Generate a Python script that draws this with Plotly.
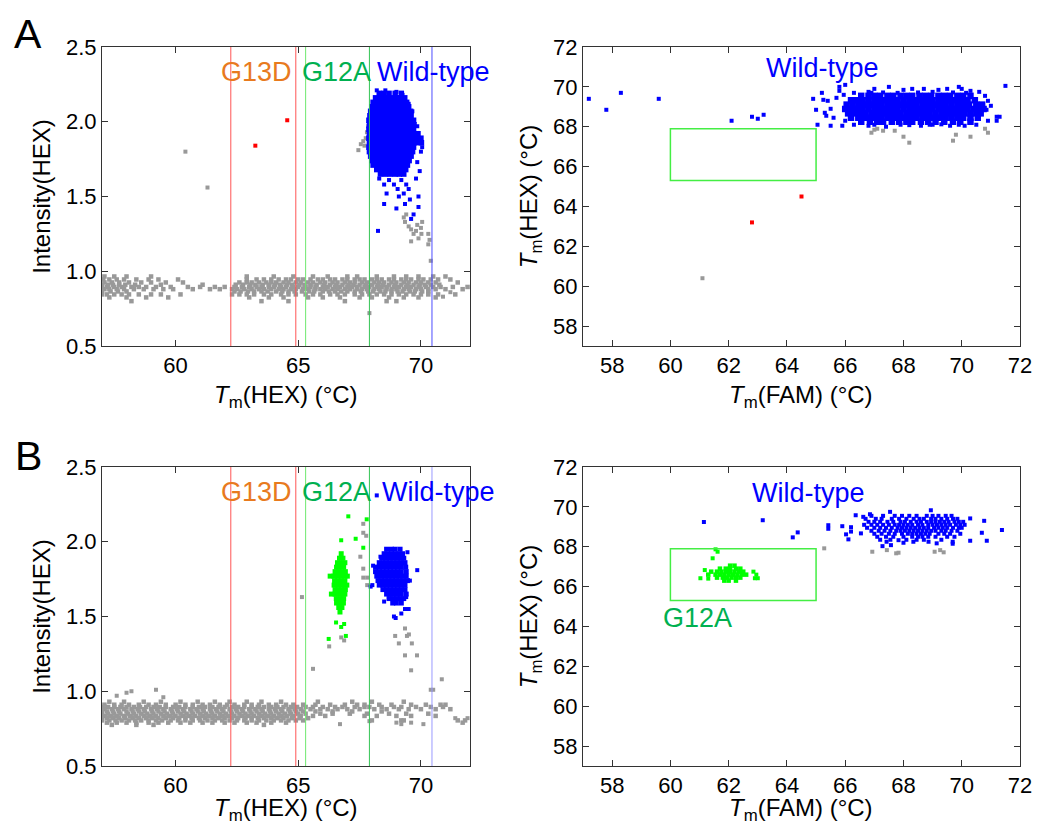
import plotly.graph_objects as go

# ---------------- data ----------------
# vertical cut-off lines in the Tm(HEX) panels
cut_g13d = [62.25, 64.9]
cut_g12a = [65.3, 67.9]
cut_wt = [70.45]
# G12A gate drawn in the Tm(FAM)/Tm(HEX) panels
gate_x = [60, 65]
gate_y = [65.3, 67.9]

# ---- panel A, left: Tm(HEX) vs intensity ----
a1_gray_row_y = [0.965, 0.945, 0.925, 0.91, 0.895, 0.88, 0.865, 0.845, 0.825, 0.80]
a1_gray_row_x = [
    [57.1, 57.5, 58.0, 59.0, 62.9, 64.0, 64.8, 65.6, 66.2, 67.0, 67.4, 68.2, 68.9, 69.4, 69.9, 70.5, 71.0],
    [57.05, 57.3, 57.6, 57.9, 58.4, 58.9, 59.3, 60.1, 62.9, 63.3, 63.6, 63.9, 64.2, 64.5, 64.7, 65.0, 65.2,
     65.5, 65.8, 66.0, 66.3, 66.5, 66.8, 67.0, 67.3, 67.5, 67.7, 68.0, 68.2, 68.4, 68.7, 68.9, 69.2, 69.4,
     69.6, 69.9, 70.1, 70.4, 70.7, 71.2],
    [57.1, 57.4, 57.7, 58.1, 58.6, 59.0, 59.6, 60.3, 62.6, 62.9, 63.1, 63.4, 63.7, 63.9, 64.1, 64.4, 64.6,
     64.9, 65.1, 65.4, 65.6, 65.9, 66.1, 66.4, 66.6, 66.9, 67.1, 67.3, 67.6, 67.8, 68.1, 68.3, 68.5, 68.8,
     69.0, 69.3, 69.5, 69.8, 70.0, 70.3, 70.6, 71.5],
    [57.0, 57.25, 57.45, 57.7, 57.95, 58.35, 59.4, 61.1, 62.45, 62.75, 63.05, 63.25, 63.55, 63.8, 64.05,
     64.25, 64.55, 64.75, 65.05, 65.25, 65.5, 65.75, 66.05, 66.3, 66.55, 66.8, 67.05, 67.25, 67.5, 67.75,
     68.0, 68.25, 68.45, 68.7, 68.95, 69.2, 69.45, 69.7, 69.95, 70.15, 70.4, 70.75],
    [57.0, 57.2, 57.5, 57.8, 58.2, 58.5, 58.8, 59.2, 59.8, 60.5, 61.0, 61.6, 62.0, 62.4, 62.7, 63.0, 63.3,
     63.5, 63.8, 64.0, 64.3, 64.5, 64.8, 65.0, 65.3, 65.5, 65.7, 66.0, 66.2, 66.5, 66.7, 67.0, 67.2, 67.4,
     67.7, 67.9, 68.2, 68.4, 68.6, 68.9, 69.1, 69.4, 69.6, 69.9, 70.2, 70.5, 70.8, 71.3, 71.9],
    [57.1, 57.3, 57.6, 57.9, 58.3, 58.7, 59.1, 59.5, 59.9, 60.7, 61.4, 61.8, 62.3, 62.5, 62.8, 63.1, 63.4,
     63.6, 63.9, 64.2, 64.4, 64.7, 64.9, 65.2, 65.4, 65.7, 65.9, 66.1, 66.4, 66.6, 66.9, 67.1, 67.4, 67.6,
     67.8, 68.1, 68.3, 68.6, 68.8, 69.0, 69.3, 69.5, 69.8, 70.0, 70.3, 70.6, 71.0, 71.7],
    [57.0, 57.35, 57.65, 58.0, 62.4, 62.65, 62.95, 63.2, 63.5, 63.75, 64.1, 64.35, 64.6, 64.85, 65.15,
     65.45, 65.65, 66.0, 66.25, 66.5, 66.75, 67.0, 67.3, 67.55, 67.85, 68.05, 68.35, 68.55, 68.8, 69.05,
     69.25, 69.55, 69.75, 70.05, 70.3],
    [57.0, 57.2, 57.5, 57.8, 58.1, 58.5, 59.0, 59.4, 60.2, 62.3, 62.6, 62.9, 63.2, 63.6, 63.9, 64.3, 64.6,
     64.9, 65.3, 65.6, 65.9, 66.3, 66.6, 66.9, 67.3, 67.6, 67.9, 68.2, 68.5, 68.8, 69.1, 69.4, 69.7, 70.0,
     70.3, 70.7, 71.4],
    [57.3, 58.0, 58.8, 59.7, 63.0, 63.8, 64.4, 65.4, 66.0, 66.7, 67.5, 68.0, 68.7, 69.3, 69.9, 70.6],
    [58.2, 63.5, 64.6, 66.9, 68.6, 69.0],
]
a1_gray_pts = [
    (60.4, 1.80), (61.3, 1.56), (70.4, 1.07), (67.9, 0.72), (70.9, 0.83), (71.2, 0.86),
    (67.45, 1.81), (67.55, 1.85), (67.65, 1.87), (67.75, 1.89), (67.8, 1.93), (67.85, 1.97), (67.7, 1.84),
    (69.3, 1.36), (69.35, 1.33), (69.5, 1.30), (69.6, 1.28), (69.7, 1.25), (69.8, 1.27), (69.85, 1.31),
    (69.9, 1.22), (70.0, 1.29), (70.02, 1.25), (70.05, 1.33), (70.3, 1.25), (70.35, 1.21), (70.3, 1.18),
    (69.6, 1.20), (69.4, 1.38),
]
a1_red_pts = [(63.25, 1.84), (64.55, 2.01)]
a1_wt_row_y = [2.19, 2.16, 2.13, 2.10, 2.07, 2.04, 2.01, 1.98, 1.95, 1.92, 1.89, 1.86, 1.83, 1.80,
               1.77, 1.74, 1.71, 1.68, 1.65]
a1_wt_row_x = [
    [68.3, 68.5, 68.7, 68.95, 69.2],
    [68.15, 68.32, 68.5, 68.67, 68.84, 69.0, 69.17, 69.34],
    [68.05, 68.22, 68.4, 68.57, 68.74, 68.9, 69.07, 69.24, 69.42],
    [68.0, 68.17, 68.34, 68.5, 68.67, 68.84, 69.0, 69.17, 69.34, 69.5],
    [67.95, 68.12, 68.28, 68.45, 68.62, 68.8, 68.96, 69.12, 69.3, 69.46, 69.58],
    [67.92, 68.08, 68.25, 68.42, 68.58, 68.75, 68.92, 69.08, 69.25, 69.42, 69.6],
    [67.88, 68.05, 68.22, 68.38, 68.55, 68.72, 68.88, 69.05, 69.22, 69.38, 69.55, 69.7],
    [67.9, 68.06, 68.22, 68.4, 68.56, 68.72, 68.9, 69.06, 69.22, 69.4, 69.56, 69.72],
    [67.88, 68.05, 68.22, 68.38, 68.55, 68.72, 68.88, 69.05, 69.22, 69.38, 69.55, 69.7],
    [67.9, 68.06, 68.22, 68.4, 68.56, 68.72, 68.9, 69.06, 69.22, 69.4, 69.56, 69.72, 69.88],
    [67.88, 68.05, 68.22, 68.38, 68.55, 68.72, 68.88, 69.05, 69.22, 69.38, 69.55, 69.7, 69.85, 70.0],
    [67.9, 68.06, 68.22, 68.4, 68.56, 68.72, 68.9, 69.06, 69.22, 69.4, 69.56, 69.72, 69.88, 70.02],
    [67.88, 68.05, 68.22, 68.38, 68.55, 68.72, 68.88, 69.05, 69.22, 69.38, 69.55, 69.7],
    [67.9, 68.06, 68.22, 68.4, 68.56, 68.72, 68.9, 69.06, 69.22, 69.4, 69.56, 69.66],
    [67.95, 68.12, 68.28, 68.45, 68.62, 68.8, 68.96, 69.12, 69.3, 69.46, 69.6],
    [68.0, 68.17, 68.34, 68.5, 68.67, 68.84, 69.0, 69.17, 69.34, 69.52],
    [68.05, 68.22, 68.4, 68.57, 68.74, 68.9, 69.07, 69.24, 69.45],
    [68.2, 68.36, 68.52, 68.7, 68.86, 69.02, 69.2, 69.38],
    [68.35, 68.55, 68.75, 68.95, 69.12, 69.3],
]
a1_wt_pts = [
    (68.2, 2.21), (68.55, 2.21), (69.0, 2.2), (69.25, 2.18), (69.5, 2.12), (69.65, 2.07), (69.85, 1.97),
    (70.05, 1.83), (70.0, 1.80), (69.85, 1.73), (69.95, 1.67), (69.8, 1.62),
    (68.3, 1.62), (68.5, 1.58), (68.7, 1.61), (68.9, 1.58), (69.05, 1.55), (69.2, 1.61), (69.4, 1.58),
    (69.5, 1.55), (68.6, 1.52), (69.1, 1.50), (69.3, 1.52), (69.55, 1.48), (69.9, 1.50), (69.9, 1.43),
    (69.35, 1.45), (68.5, 1.45), (69.7, 1.38), (68.25, 1.27), (69.0, 1.42), (69.6, 1.35),
]

# ---- panel A, right: Tm(FAM) vs Tm(HEX) ----
a2_gray_pts = [
    (61.1, 60.4), (66.9, 67.7), (67.1, 67.9), (67.3, 67.8), (67.7, 67.8), (68.0, 67.5), (68.2, 67.2),
    (69.7, 67.3), (69.8, 67.6), (70.3, 67.5), (70.8, 67.9), (70.9, 67.7), (67.0, 67.85),
]
a2_red_pts = [(62.8, 63.2), (64.5, 64.5)]
a2_wt_row_y = [69.55, 69.33, 69.11, 68.89, 68.67, 68.45, 68.25]
a2_wt_row_x = [
    [66.55, 66.8, 67.0, 67.2, 67.45, 67.65, 67.9, 68.1, 68.3, 68.55, 68.75, 68.95, 69.2, 69.4, 69.6,
     69.85, 70.05, 70.3],
    [66.2, 66.4, 66.6, 66.8, 67.0, 67.2, 67.4, 67.6, 67.8, 68.0, 68.2, 68.4, 68.6, 68.8, 69.0, 69.2,
     69.4, 69.6, 69.8, 70.0, 70.2, 70.45],
    [66.05, 66.25, 66.45, 66.65, 66.85, 67.05, 67.25, 67.45, 67.65, 67.85, 68.05, 68.25, 68.45, 68.65,
     68.85, 69.05, 69.25, 69.45, 69.65, 69.85, 70.05, 70.25, 70.5, 70.7],
    [66.0, 66.2, 66.4, 66.6, 66.8, 67.0, 67.2, 67.4, 67.6, 67.8, 68.0, 68.2, 68.4, 68.6, 68.8, 69.0,
     69.2, 69.4, 69.6, 69.8, 70.0, 70.2, 70.4, 70.6, 70.75],
    [66.1, 66.3, 66.5, 66.7, 66.9, 67.1, 67.3, 67.5, 67.7, 67.9, 68.1, 68.3, 68.5, 68.7, 68.9, 69.1,
     69.3, 69.5, 69.7, 69.9, 70.1, 70.3, 70.5, 70.65],
    [66.2, 66.45, 66.65, 66.85, 67.05, 67.25, 67.45, 67.65, 67.85, 68.05, 68.25, 68.45, 68.65, 68.85,
     69.05, 69.25, 69.45, 69.65, 69.85, 70.05, 70.3, 70.55],
    [66.55, 66.85, 67.1, 67.3, 67.6, 67.85, 68.1, 68.3, 68.6, 68.85, 69.1, 69.4, 69.7, 69.95, 70.3],
]
a2_wt_pts = [
    (57.2, 69.4), (57.8, 68.85), (58.3, 69.7), (59.6, 69.4), (62.1, 68.3), (62.8, 68.5), (63.0, 68.4),
    (63.2, 68.6), (71.5, 70.05), (64.9, 69.4), (65.0, 68.85), (65.05, 68.1), (65.2, 69.7), (65.25, 69.35),
    (65.4, 69.3), (65.3, 68.7), (65.35, 68.55), (65.5, 68.05), (65.5, 68.9), (65.6, 68.45), (65.8, 70.0),
    (65.8, 69.8), (65.9, 68.05), (65.7, 69.45), (66.0, 70.1), (65.95, 69.6), (66.3, 68.1), (67.5, 70.0),
    (67.0, 69.9), (68.0, 69.85), (68.3, 69.9), (68.7, 69.9), (69.2, 69.85), (69.5, 69.9), (69.9, 70.0),
    (70.0, 69.9), (70.3, 69.8), (70.6, 69.75), (70.8, 69.55), (70.9, 69.3), (71.0, 69.05), (70.85, 68.85),
    (71.2, 68.5), (71.3, 68.5), (70.9, 68.3), (71.2, 68.3), (70.5, 68.1), (70.1, 68.05), (69.6, 68.05),
    (68.6, 68.05), (67.4, 68.0), (66.8, 68.05), (67.9, 68.1), (66.9, 69.7), (69.0, 68.1),
    (66.3, 69.7), (66.8, 69.75), (67.3, 69.72), (67.8, 69.7), (68.5, 69.72), (69.0, 69.75), (69.7, 69.72),
    (70.15, 69.7), (66.0, 68.3), (67.0, 68.1), (68.2, 68.08), (68.9, 68.1), (69.3, 68.12), (69.9, 68.1),
]

# ---- panel B, left: Tm(HEX) vs intensity ----
b1_gray_row_y = [0.93, 0.91, 0.895, 0.88, 0.865, 0.85, 0.835, 0.82, 0.805, 0.79, 0.775]
b1_gray_row_x = [
    [57.3, 57.9, 58.7, 59.4, 60.2, 60.9, 61.6, 62.2, 62.9, 63.5, 64.3, 65.8, 67.2, 68.0, 69.3],
    [57.1, 57.5, 57.8, 58.1, 58.5, 58.9, 59.2, 59.6, 60.0, 60.4, 60.7, 61.1, 61.4, 61.8, 62.1, 62.4,
     62.8, 63.1, 63.4, 63.8, 64.1, 64.5, 64.8, 65.2, 65.7, 66.3, 66.9, 67.4, 67.7, 68.3, 68.8, 69.6,
     70.2, 70.8, 71.0],
    [57.0, 57.25, 57.5, 57.75, 58.0, 58.3, 58.55, 58.8, 59.1, 59.35, 59.6, 59.9, 60.15, 60.4, 60.7,
     60.95, 61.2, 61.5, 61.75, 62.0, 62.3, 62.55, 62.8, 63.1, 63.35, 63.6, 63.9, 64.15, 64.4, 64.7,
     64.95, 65.3, 65.6, 66.0, 66.5, 66.8, 67.3, 67.7, 67.9, 68.4, 68.9, 69.2, 69.8, 70.4, 70.9],
    [57.1, 57.4, 57.65, 57.9, 58.2, 58.45, 58.7, 59.0, 59.25, 59.5, 59.8, 60.05, 60.3, 60.6, 60.85,
     61.1, 61.4, 61.65, 61.9, 62.2, 62.45, 62.7, 63.0, 63.25, 63.5, 63.8, 64.05, 64.3, 64.6, 64.85,
     65.1, 65.5, 65.9, 66.2, 66.6, 67.0, 67.5, 68.1, 68.6, 69.1, 69.5, 70.0, 70.6, 71.2],
    [57.0, 57.2, 57.45, 57.7, 58.0, 58.25, 58.5, 58.75, 59.05, 59.3, 59.55, 59.85, 60.1, 60.35, 60.65,
     60.9, 61.15, 61.45, 61.7, 61.95, 62.25, 62.5, 62.75, 63.05, 63.3, 63.55, 63.85, 64.1, 64.35, 64.65,
     64.9, 65.2, 65.7, 66.4, 67.2, 68.4],
    [57.0, 57.25, 57.5, 57.75, 58.05, 58.3, 58.6, 58.85, 59.1, 59.4, 59.65, 59.9, 60.2, 60.45, 60.7,
     61.0, 61.25, 61.5, 61.8, 62.05, 62.3, 62.6, 62.85, 63.1, 63.4, 63.65, 63.9, 64.2, 64.45, 64.7,
     65.0, 65.3, 65.9, 66.4, 67.1, 67.8, 68.7, 69.4, 70.3],
    [57.1, 57.35, 57.6, 57.9, 58.15, 58.4, 58.7, 58.95, 59.2, 59.5, 59.75, 60.0, 60.3, 60.55, 60.8,
     61.1, 61.35, 61.6, 61.9, 62.15, 62.4, 62.7, 62.95, 63.2, 63.5, 63.75, 64.0, 64.3, 64.55, 64.8,
     65.1, 65.6, 66.1, 67.7, 68.2, 69.0, 69.6, 70.6],
    [57.0, 57.2, 57.45, 57.7, 57.95, 58.25, 58.5, 58.8, 59.05, 59.3, 59.6, 59.9, 60.15, 60.4, 60.65,
     60.95, 61.2, 61.5, 61.75, 62.0, 62.3, 62.55, 62.85, 63.1, 63.35, 63.6, 63.9, 64.15, 64.4, 64.75,
     65.05, 65.4],
    [57.0, 57.3, 57.55, 57.8, 58.1, 58.35, 58.6, 58.9, 59.2, 59.45, 59.8, 60.1, 60.4, 60.7, 61.0,
     61.3, 61.6, 61.9, 62.2, 62.5, 62.8, 63.1, 63.4, 63.7, 64.0, 64.3, 64.6, 64.9, 65.2, 68.0, 69.2,
     69.3, 71.5, 71.8],
    [57.2, 57.6, 58.0, 58.4, 58.9, 59.3, 59.7, 60.2, 60.6, 61.1, 61.5, 62.0, 62.4, 62.9, 63.3, 63.9,
     64.5, 71.7],
    [57.4, 58.4, 59.1, 63.6],
]
b1_gray_pts = [
    (58.0, 0.99), (58.2, 1.0), (59.2, 1.01), (59.5, 0.96), (57.6, 0.97), (66.7, 0.78), (67.9, 0.80),
    (69.0, 0.79), (69.6, 0.79), (70.4, 1.01), (70.5, 1.01), (70.85, 1.08), (69.2, 0.78), (70.1, 0.78),
    (71.9, 0.82), (71.4, 0.82),
    (65.15, 1.63), (65.6, 1.15), (66.26, 1.30), (66.75, 1.36), (66.87, 1.34),
    (67.65, 2.12), (67.65, 2.06), (67.77, 2.04), (67.53, 1.90), (67.65, 1.82), (67.65, 1.76),
    (67.81, 1.76), (67.81, 1.71),
    (69.35, 1.42), (68.95, 1.37), (69.43, 1.37), (69.51, 1.38), (69.1, 1.32), (69.63, 1.32),
    (69.35, 1.24), (69.84, 1.24), (69.6, 1.14),
]
b1_g12a_row_y = [1.92, 1.89, 1.86, 1.83, 1.80, 1.77, 1.74, 1.71, 1.68, 1.65, 1.62, 1.59, 1.56, 1.53]
b1_g12a_row_x = [
    [66.75],
    [66.68, 66.82],
    [66.6, 66.75, 66.9],
    [66.56, 66.7, 66.85],
    [66.5, 66.64, 66.78, 66.92],
    [66.3, 66.45, 66.6, 66.75, 66.9, 67.0],
    [66.48, 66.62, 66.76, 66.9],
    [66.46, 66.6, 66.74, 66.88, 66.98],
    [66.5, 66.64, 66.78, 66.92],
    [66.35, 66.5, 66.64, 66.78, 66.9],
    [66.55, 66.7, 66.85],
    [66.56, 66.7, 66.84],
    [66.65, 66.78],
    [66.7],
]
b1_g12a_pts = [
    (67.04, 2.17), (67.79, 2.15), (66.75, 2.01), (67.34, 2.02), (67.65, 1.96), (66.54, 1.46),
    (66.87, 1.45), (66.75, 1.43), (66.94, 1.37), (66.24, 1.35),
]
b1_wt_row_y = [1.95, 1.92, 1.89, 1.86, 1.83, 1.80, 1.77, 1.74, 1.71, 1.68, 1.65, 1.62, 1.59]
b1_wt_row_x = [
    [68.6, 68.8, 68.95, 69.15],
    [68.5, 68.65, 68.8, 68.95, 69.1, 69.25],
    [68.4, 68.55, 68.7, 68.85, 69.0, 69.15, 69.3],
    [68.3, 68.45, 68.6, 68.75, 68.9, 69.05, 69.2, 69.35],
    [68.15, 68.3, 68.45, 68.6, 68.75, 68.9, 69.05, 69.2, 69.38],
    [68.15, 68.3, 68.45, 68.6, 68.75, 68.9, 69.05, 69.2, 69.4],
    [68.2, 68.35, 68.5, 68.65, 68.8, 68.95, 69.1, 69.25, 69.4],
    [68.25, 68.4, 68.55, 68.7, 68.85, 69.0, 69.15, 69.3, 69.45],
    [68.3, 68.45, 68.6, 68.75, 68.9, 69.05, 69.2, 69.35],
    [68.45, 68.6, 68.75, 68.9, 69.05, 69.2, 69.35],
    [68.6, 68.75, 68.9, 69.05, 69.2, 69.4],
    [68.7, 68.85, 69.0, 69.15, 69.3],
    [68.85, 69.0, 69.2],
]
b1_wt_pts = [
    (68.05, 1.84), (67.95, 1.70), (68.02, 1.71), (69.85, 1.81), (69.55, 1.74), (69.4, 1.63),
    (69.35, 1.55), (69.5, 1.55), (68.9, 1.50), (68.97, 1.49), (69.2, 1.52), (68.5, 1.60),
    (68.2, 2.31), (68.35, 1.90), (69.45, 1.93),
]

# ---- panel B, right: Tm(FAM) vs Tm(HEX) ----
b2_gray_pts = [
    (65.28, 67.92), (66.93, 67.75), (67.43, 67.83), (67.75, 67.67), (67.83, 67.7), (69.07, 67.75),
    (69.26, 67.83), (69.38, 67.72),
]
b2_wt_row_y = [69.55, 69.4, 69.25, 69.1, 68.95, 68.8, 68.65, 68.5, 68.35]
b2_wt_row_x = [
    [66.9, 67.3, 67.7, 67.95, 68.2, 68.45, 68.8, 69.0, 69.2, 69.45, 69.65],
    [66.7, 67.05, 67.25, 67.6, 67.85, 68.1, 68.35, 68.55, 68.7, 68.95, 69.1, 69.3, 69.5, 69.7, 69.85],
    [66.8, 67.0, 67.2, 67.45, 67.65, 67.9, 68.05, 68.25, 68.45, 68.6, 68.8, 68.95, 69.1, 69.25, 69.4,
     69.55, 69.75, 69.9, 70.05],
    [66.65, 66.9, 67.1, 67.3, 67.5, 67.7, 67.85, 68.0, 68.15, 68.3, 68.5, 68.65, 68.85, 69.0, 69.15,
     69.3, 69.45, 69.6, 69.8, 69.95, 70.1],
    [66.75, 67.0, 67.2, 67.4, 67.6, 67.8, 67.95, 68.1, 68.25, 68.4, 68.55, 68.7, 68.85, 69.05, 69.2,
     69.35, 69.5, 69.7, 69.9, 70.0],
    [66.9, 67.15, 67.35, 67.55, 67.75, 67.9, 68.05, 68.2, 68.35, 68.5, 68.65, 68.8, 68.95, 69.1, 69.3,
     69.45, 69.65, 69.85],
    [67.0, 67.25, 67.5, 67.7, 67.95, 68.15, 68.3, 68.45, 68.6, 68.75, 68.9, 69.2, 69.4, 69.6, 69.95],
    [67.1, 67.4, 67.65, 68.0, 68.3, 68.5, 68.65, 68.85, 69.1, 69.5, 69.75],
    [67.2, 67.55, 68.1, 68.45, 68.7, 69.3],
]
b2_wt_pts = [
    (61.15, 69.24), (63.17, 69.33), (64.2, 68.47), (64.37, 68.72), (65.42, 69.08), (65.42, 68.9),
    (65.9, 69.03), (66.2, 68.98), (66.2, 68.76), (66.36, 69.58), (66.03, 68.62), (66.11, 68.37),
    (66.62, 69.5), (66.85, 69.63), (67.54, 69.75), (68.94, 69.83), (70.29, 69.42), (70.77, 69.3),
    (71.38, 68.84), (70.69, 68.7), (70.29, 68.3), (70.86, 68.3), (69.69, 68.25), (69.69, 68.15),
    (69.14, 68.17), (68.86, 68.25), (68.34, 68.25), (68.0, 68.2), (67.83, 68.33), (67.42, 68.25),
    (67.28, 68.03), (67.57, 68.08), (66.54, 68.67),
]
b2_g12a_row_y = [67.05, 66.9, 66.75, 66.6, 66.45, 66.3]
b2_g12a_row_x = [
    [62.05, 62.2],
    [61.7, 61.9, 62.05, 62.25, 62.4],
    [61.4, 61.6, 61.75, 61.9, 62.05, 62.2, 62.35, 62.5],
    [61.3, 61.55, 61.7, 61.85, 62.0, 62.15, 62.3, 62.45, 62.6],
    [61.6, 61.8, 61.95, 62.1, 62.25, 62.4],
    [61.85, 62.0, 62.25],
]
b2_g12a_pts = [
    (61.55, 67.87), (61.62, 67.75), (61.45, 67.42), (61.03, 66.42), (61.18, 66.83), (61.3, 66.4),
    (62.85, 66.75), (63.0, 66.42), (62.9, 66.42), (62.95, 66.6),
]

# ---------------- drawing ----------------
GRAY = '#999999'
BLUE = '#0000FF'
RED = '#FF0000'
GREEN = '#00FF00'
FONT = 'Arial, "Liberation Sans", sans-serif'

# the page puts the plot 8px in from the corner, so lay out a slightly smaller figure
W, H, OFF = 1031, 817, 8


def fx(px):
    return (px - OFF) / W


def fy(py):
    return 1 - (py - OFF) / H


def rows_to_xy(row_y, row_x):
    xs, ys = [], []
    for y, xr in zip(row_y, row_x):
        xs += xr
        ys += [y] * len(xr)
    return xs, ys


def pts_to_xy(pts):
    return [p[0] for p in pts], [p[1] for p in pts]


fig = go.Figure()


def add_points(xs, ys, color, size, xa, ya):
    fig.add_trace(go.Scatter(
        x=xs, y=ys, mode='markers', xaxis=xa, yaxis=ya, showlegend=False,
        marker=dict(symbol='square', size=size, color=color, line=dict(width=0)),
        hoverinfo='x+y',
    ))


# panel A left
add_points(*rows_to_xy(a1_gray_row_y, a1_gray_row_x), GRAY, 4.5, 'x', 'y')
add_points(*pts_to_xy(a1_gray_pts), GRAY, 4, 'x', 'y')
add_points(*rows_to_xy(a1_wt_row_y, a1_wt_row_x), BLUE, 5.5, 'x', 'y')
add_points(*pts_to_xy(a1_wt_pts), BLUE, 4, 'x', 'y')
add_points(*pts_to_xy(a1_red_pts), RED, 4, 'x', 'y')
# panel A right
add_points(*pts_to_xy(a2_gray_pts), GRAY, 4, 'x2', 'y2')
add_points(*rows_to_xy(a2_wt_row_y, a2_wt_row_x), BLUE, 6.5, 'x2', 'y2')
add_points(*pts_to_xy(a2_wt_pts), BLUE, 4, 'x2', 'y2')
add_points(*pts_to_xy(a2_red_pts), RED, 4, 'x2', 'y2')
# panel B left
add_points(*rows_to_xy(b1_gray_row_y, b1_gray_row_x), GRAY, 4.5, 'x3', 'y3')
add_points(*pts_to_xy(b1_gray_pts), GRAY, 4, 'x3', 'y3')
add_points(*rows_to_xy(b1_g12a_row_y, b1_g12a_row_x), GREEN, 5, 'x3', 'y3')
add_points(*pts_to_xy(b1_g12a_pts), GREEN, 4, 'x3', 'y3')
add_points(*rows_to_xy(b1_wt_row_y, b1_wt_row_x), BLUE, 5, 'x3', 'y3')
add_points(*pts_to_xy(b1_wt_pts), BLUE, 4, 'x3', 'y3')
# panel B right
add_points(*pts_to_xy(b2_gray_pts), GRAY, 4, 'x4', 'y4')
add_points(*rows_to_xy(b2_wt_row_y, b2_wt_row_x), BLUE, 4, 'x4', 'y4')
add_points(*pts_to_xy(b2_wt_pts), BLUE, 4, 'x4', 'y4')
add_points(*rows_to_xy(b2_g12a_row_y, b2_g12a_row_x), GREEN, 4.5, 'x4', 'y4')
add_points(*pts_to_xy(b2_g12a_pts), GREEN, 4, 'x4', 'y4')

# cut-off lines and gates
shapes = []
for xa, ya, wt_col in [('x', 'y', '#4D4DFF'), ('x3', 'y3', '#9999FF')]:
    for v in cut_g13d:
        shapes.append(dict(type='line', xref=xa, yref=ya + ' domain', x0=v, x1=v, y0=0, y1=1,
                           line=dict(color='#FF5555', width=1)))
    shapes.append(dict(type='line', xref=xa, yref=ya + ' domain', x0=cut_g12a[0], x1=cut_g12a[0],
                       y0=0, y1=1, line=dict(color='#6EE86E', width=1)))
    shapes.append(dict(type='line', xref=xa, yref=ya + ' domain', x0=cut_g12a[1], x1=cut_g12a[1],
                       y0=0, y1=1, line=dict(color='#33C455', width=1)))
    for v in cut_wt:
        shapes.append(dict(type='line', xref=xa, yref=ya + ' domain', x0=v, x1=v, y0=0, y1=1,
                           line=dict(color=wt_col, width=1)))
for xa, ya in [('x2', 'y2'), ('x4', 'y4')]:
    shapes.append(dict(type='rect', xref=xa, yref=ya, x0=gate_x[0], x1=gate_x[1],
                       y0=gate_y[0], y1=gate_y[1], line=dict(color='#44EE44', width=1.5)))

ann = []


def label(text, x, y, xa, ya, color, size=27):
    ann.append(dict(text=text, x=x, y=y, xref=xa, yref=ya, showarrow=False, xanchor='center',
                    yanchor='middle', font=dict(family=FONT, size=size, color=color)))


ORANGE = '#E87A1E'
DKGREEN = '#00B050'
label('G13D', 63.28, 2.33, 'x', 'y', ORANGE)
label('G12A', 66.56, 2.33, 'x', 'y', DKGREEN)
label('Wild-type', 70.53, 2.33, 'x', 'y', BLUE)
label('Wild-type', 65.23, 70.95, 'x2', 'y2', BLUE)
label('G13D', 63.28, 2.33, 'x3', 'y3', ORANGE)
label('G12A', 66.56, 2.33, 'x3', 'y3', DKGREEN)
label('Wild-type', 70.73, 2.33, 'x3', 'y3', BLUE)
label('Wild-type', 64.75, 70.7, 'x4', 'y4', BLUE)
label('G12A', 60.93, 64.4, 'x4', 'y4', DKGREEN)
# panel letters, hung from their top edge so they stay inside the page
for letter, py in [('A', 8.5), ('B', 431)]:
    ann.append(dict(text=letter, x=fx(28), y=fy(py), xref='paper', yref='paper', showarrow=False,
                    xanchor='center', yanchor='top', font=dict(family=FONT, size=41, color='black')))

# x-axis titles as paper annotations so the lower pair sits where the reference has it
tm_hex = '<i>T</i><sub>m</sub>(HEX) (°C)'
tm_fam = '<i>T</i><sub>m</sub>(FAM) (°C)'
for text, px, py in [(tm_hex, 286, 396), (tm_fam, 801, 396), (tm_hex, 286, 809), (tm_fam, 801, 809)]:
    ann.append(dict(text=text, x=fx(px), y=fy(py), xref='paper', yref='paper', showarrow=False,
                    xanchor='center', yanchor='middle', font=dict(family=FONT, size=24, color='black')))

axis_common = dict(showline=True, linecolor='#333333', linewidth=1, mirror='ticks', ticks='inside',
                   ticklen=6, tickcolor='#333333', showgrid=False, zeroline=False, automargin=False,
                   tickfont=dict(family=FONT, size=22, color='black'),
                   title_font=dict(family=FONT, size=24, color='black'))

int_ticks = [0.5, 1.0, 1.5, 2.0, 2.5]
int_text = ['0.5', '1.0', '1.5', '2.0', '2.5']
tm_ticks = [58, 60, 62, 64, 66, 68, 70, 72]

left_dom = [fx(102), fx(470)]
right_dom = [fx(583), fx(1020)]
top_dom = [fy(346), fy(47)]
bot_dom = [fy(766), fy(467)]

fig.update_layout(
    width=W, height=H, margin=dict(l=0, r=0, t=0, b=0, autoexpand=False),
    paper_bgcolor='white', plot_bgcolor='white', showlegend=False,
    shapes=shapes, annotations=ann,
    xaxis=dict(domain=left_dom, anchor='y', range=[57, 72], tickvals=[60, 65, 70], **axis_common),
    yaxis=dict(domain=top_dom, anchor='x', range=[0.5, 2.5], tickvals=int_ticks, ticktext=int_text,
               title=dict(text='Intensity(HEX)', standoff=8), **axis_common),
    xaxis2=dict(domain=right_dom, anchor='y2', range=[57, 72], tickvals=tm_ticks, **axis_common),
    yaxis2=dict(domain=top_dom, anchor='x2', range=[57, 72], tickvals=tm_ticks,
                title=dict(text=tm_hex, standoff=8), **axis_common),
    xaxis3=dict(domain=left_dom, anchor='y3', range=[57, 72], tickvals=[60, 65, 70], **axis_common),
    yaxis3=dict(domain=bot_dom, anchor='x3', range=[0.5, 2.5], tickvals=int_ticks, ticktext=int_text,
                title=dict(text='Intensity(HEX)', standoff=8), **axis_common),
    xaxis4=dict(domain=right_dom, anchor='y4', range=[57, 72], tickvals=tm_ticks, **axis_common),
    yaxis4=dict(domain=bot_dom, anchor='x4', range=[57, 72], tickvals=tm_ticks,
                title=dict(text=tm_hex, standoff=8), **axis_common),
)

fig.write_html("out.html")
